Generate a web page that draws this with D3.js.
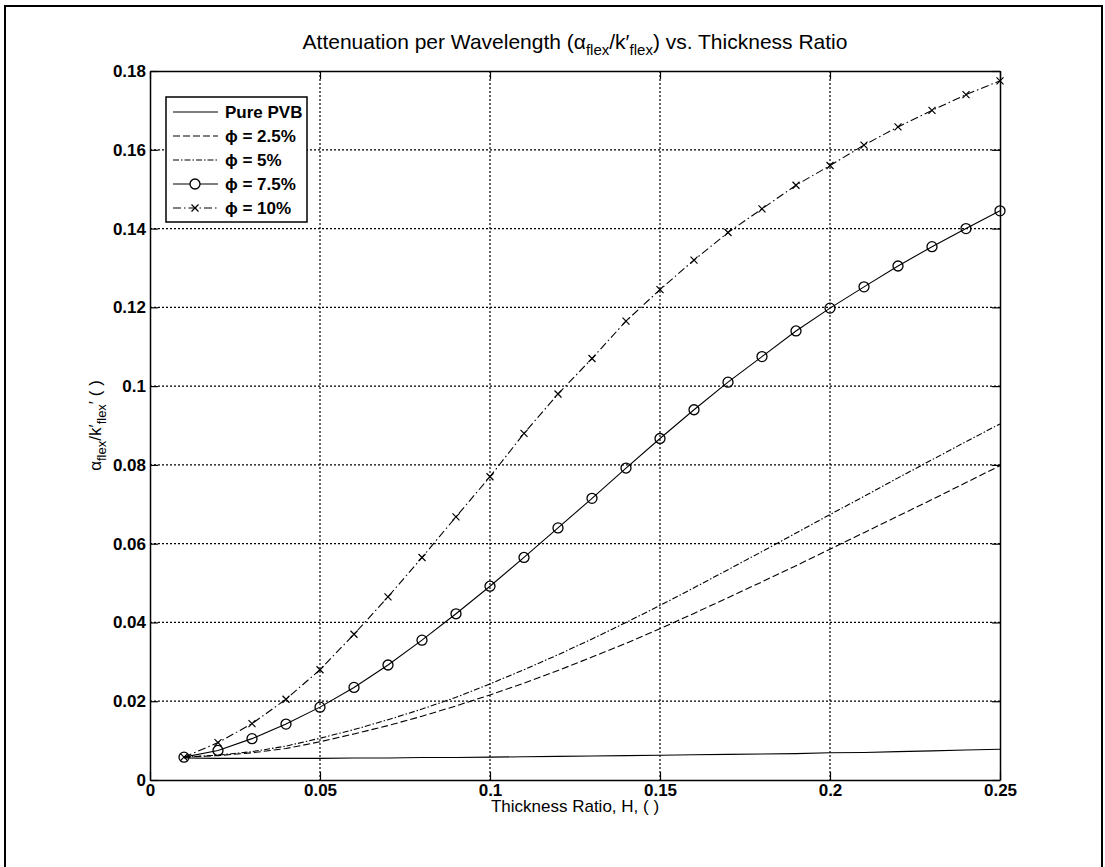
<!DOCTYPE html>
<html><head><meta charset="utf-8">
<script src="https://cdn.jsdelivr.net/npm/d3@7"></script>
<style>body{margin:0;background:#fff;} text{font-family:"Liberation Sans",Arial,sans-serif;}</style>
</head><body><svg id="c" width="1105" height="867"></svg>
<script>
const H = [0.01,0.02,0.03,0.04,0.05,0.06,0.07,0.08,0.09,0.10,0.11,0.12,0.13,0.14,0.15,0.16,0.17,0.18,0.19,0.20,0.21,0.22,0.23,0.24,0.25];
const purePVB = [0.0056,0.0055,0.0055,0.0055,0.0055,0.0056,0.0056,0.0057,0.0057,0.0058,0.0059,0.0060,0.0061,0.0062,0.0063,0.0064,0.0065,0.0066,0.0067,0.0069,0.0070,0.0072,0.0074,0.0076,0.0078];
const phi25 = [0.0058,0.0062,0.0069,0.0080,0.0097,0.0117,0.0138,0.0162,0.0188,0.0216,0.0246,0.0278,0.0312,0.0347,0.0384,0.0423,0.0463,0.0503,0.0544,0.0586,0.0628,0.0670,0.0712,0.0755,0.0798];
const phi5 = [0.0058,0.0063,0.0072,0.0086,0.0106,0.0128,0.0153,0.0180,0.0210,0.0244,0.0280,0.0318,0.0358,0.0400,0.0443,0.0488,0.0534,0.0580,0.0627,0.0674,0.0720,0.0767,0.0813,0.0859,0.0904];
const phi75 = [0.0058,0.0075,0.0105,0.0142,0.0185,0.0235,0.0292,0.0355,0.0422,0.0492,0.0565,0.0640,0.0715,0.0792,0.0867,0.0940,0.1010,0.1075,0.1140,0.1198,0.1252,0.1305,0.1354,0.1400,0.1445];
const phi10 = [0.0058,0.0095,0.0143,0.0205,0.0280,0.0370,0.0465,0.0565,0.0668,0.0770,0.0880,0.0980,0.1070,0.1165,0.1245,0.1320,0.1390,0.1450,0.1510,0.1560,0.1612,0.1658,0.1700,0.1740,0.1775];
const xTicks = [0,0.05,0.1,0.15,0.2,0.25];
const xTickLabels = ["0","0.05","0.1","0.15","0.2","0.25"];
const yTicks = [0,0.02,0.04,0.06,0.08,0.1,0.12,0.14,0.16,0.18];
const yTickLabels = ["0","0.02","0.04","0.06","0.08","0.1","0.12","0.14","0.16","0.18"];
const seriesNames = ["Pure PVB","\u03d5 = 2.5%","\u03d5 = 5%","\u03d5 = 7.5%","\u03d5 = 10%"];

const series = [
  {name:seriesNames[0], v:purePVB, dash:null, marker:null},
  {name:seriesNames[1], v:phi25, dash:"7,3", marker:null},
  {name:seriesNames[2], v:phi5, dash:"6,2,1.5,2", marker:null},
  {name:seriesNames[3], v:phi75, dash:null, marker:"o"},
  {name:seriesNames[4], v:phi10, dash:"8,3,1.5,3", marker:"x"}
];

const svg = d3.select("#c");
// outer frame
svg.append("path").attr("d","M5,867 L5,6 L1102,6 L1102,867").attr("fill","none").attr("stroke","#000").attr("stroke-width",2);

const L=150, R=1000, T=71, B=780;
const x = d3.scaleLinear().domain([0,0.25]).range([L,R]);
const y = d3.scaleLinear().domain([0,0.18]).range([B,T]);

const g = svg.append("g");
// grid
g.selectAll(".gx").data(xTicks.slice(1,-1)).enter().append("line")
 .attr("x1",d=>x(d)).attr("x2",d=>x(d)).attr("y1",T).attr("y2",B)
 .attr("stroke","#000").attr("stroke-width",1.2).attr("stroke-dasharray","2,2");
g.selectAll(".gy").data(yTicks.slice(1,-1)).enter().append("line")
 .attr("y1",d=>y(d)).attr("y2",d=>y(d)).attr("x1",L).attr("x2",R)
 .attr("stroke","#000").attr("stroke-width",1.2).attr("stroke-dasharray","2,2");

// axes
const xa = d3.axisBottom(x).tickValues(xTicks).tickFormat((d,i)=>xTickLabels[i]).tickSizeInner(-8).tickSizeOuter(0).tickPadding(4);
const xg = svg.append("g").attr("transform",`translate(0,${B})`).call(xa);
const xt = svg.append("g").attr("transform",`translate(0,${T})`).call(d3.axisTop(x).tickValues(xTicks).tickFormat("").tickSizeInner(-8).tickSizeOuter(0));
const ya = d3.axisLeft(y).tickValues(yTicks).tickFormat((d,i)=>yTickLabels[i]).tickSizeInner(-8).tickSizeOuter(0).tickPadding(4);
const yg = svg.append("g").attr("transform",`translate(${L},0)`).call(ya);
const yr = svg.append("g").attr("transform",`translate(${R},0)`).call(d3.axisRight(y).tickValues(yTicks).tickFormat("").tickSizeInner(-8).tickSizeOuter(0));
[xg,xt,yg,yr].forEach(a=>{a.select(".domain").attr("stroke","#000").attr("stroke-width",1.5);a.selectAll(".tick line").attr("stroke","#000").attr("stroke-width",1.2);a.selectAll("text").attr("font-size",17).attr("font-weight","bold").attr("fill","#000").style("font-family","Liberation Sans, Arial, sans-serif");});

// lines
const line = d3.line().x((d,i)=>x(H[i])).y(d=>y(d));
series.forEach(s=>{
  const p = svg.append("path").datum(s.v).attr("d",line).attr("fill","none").attr("stroke","#000").attr("stroke-width",1.1);
  if(s.dash) p.attr("stroke-dasharray",s.dash);
  if(s.marker==="o"){
    svg.selectAll(null).data(s.v).enter().append("circle").attr("cx",(d,i)=>x(H[i])).attr("cy",d=>y(d)).attr("r",5).attr("fill","none").attr("stroke","#000").attr("stroke-width",1.3);
  }
  if(s.marker==="x"){
    const k=3.5;
    svg.selectAll(null).data(s.v).enter().append("path").attr("d",(d,i)=>{const cx=x(H[i]),cy=y(d);return `M${cx-k},${cy-k}L${cx+k},${cy+k}M${cx-k},${cy+k}L${cx+k},${cy-k}`;}).attr("stroke","#000").attr("stroke-width",1.2);
  }
});

// legend
const lg = svg.append("g");
const lx=166, ly=97, lw=141, rowH=24;
lg.append("rect").attr("x",lx).attr("y",ly).attr("width",lw).attr("height",rowH*series.length+5).attr("fill","#fff").attr("stroke","#000").attr("stroke-width",1.5);
series.forEach((s,i)=>{
  const cy = ly+15+i*rowH;
  const l = lg.append("line").attr("x1",lx+7).attr("x2",lx+52).attr("y1",cy).attr("y2",cy).attr("stroke","#000").attr("stroke-width",1.1);
  if(s.dash) l.attr("stroke-dasharray",s.dash);
  if(s.marker==="o") lg.append("circle").attr("cx",lx+29).attr("cy",cy).attr("r",5).attr("fill","#fff").attr("stroke","#000").attr("stroke-width",1.3);
  if(s.marker==="x"){const k=3.5,cx=lx+29;lg.append("path").attr("d",`M${cx-k},${cy-k}L${cx+k},${cy+k}M${cx-k},${cy+k}L${cx+k},${cy-k}`).attr("stroke","#000").attr("stroke-width",1.2);}
  lg.append("text").attr("x",lx+59).attr("y",cy).attr("dy","0.36em").attr("font-size",17).attr("font-weight","bold").text(s.name);
});

// title
const t = svg.append("text").attr("x",(L+R)/2).attr("y",49).attr("text-anchor","middle").attr("font-size",21);
t.append("tspan").text("Attenuation per Wavelength (\u03b1");
t.append("tspan").attr("font-size",15).attr("dy",6).text("flex");
t.append("tspan").attr("dy",-6).text("/k\u2032");
t.append("tspan").attr("font-size",15).attr("dy",6).text("flex");
t.append("tspan").attr("dy",-6).text(") vs. Thickness Ratio");

// x label
svg.append("text").attr("x",(L+R)/2).attr("y",812).attr("text-anchor","middle").attr("font-size",17).text("Thickness Ratio, H, ( )");

// y label
const yl = svg.append("text").attr("transform",`translate(101,${(T+B)/2}) rotate(-90)`).attr("text-anchor","middle").attr("font-size",17);
yl.append("tspan").text("\u03b1");
yl.append("tspan").attr("font-size",13).attr("dy",5).text("flex");
yl.append("tspan").attr("dy",-5).text("/k\u2032");
yl.append("tspan").attr("font-size",13).attr("dy",5).text("flex");
yl.append("tspan").attr("dy",-5).text("\u2032 ( )");
</script></body></html>
